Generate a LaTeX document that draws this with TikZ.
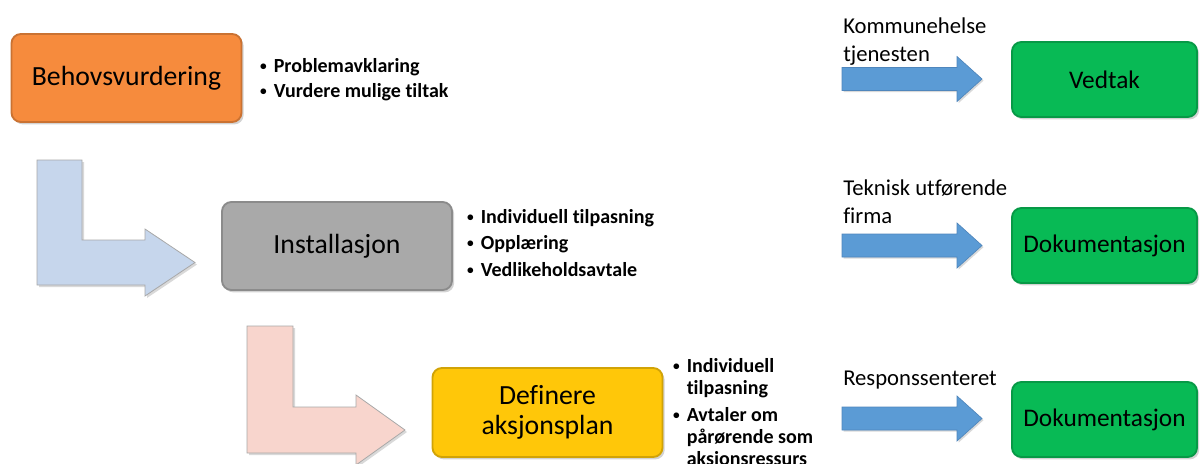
\documentclass[tikz,border=0pt]{standalone}
\usepackage{fontspec}
\setmainfont{Carlito}[Ligatures=NoCommon]
\usetikzlibrary{shadows}
\definecolor{orangebox}{HTML}{F68B3D}
\definecolor{graybox}{HTML}{A9A9A9}
\definecolor{yellowbox}{HTML}{FFC709}
\definecolor{greenbox}{HTML}{08BA55}
\definecolor{bluearrow}{HTML}{5B9BD5}
\definecolor{bluearrowline}{HTML}{4F86BC}
\definecolor{lblue}{HTML}{C6D6EC}
\definecolor{lpink}{HTML}{F8D5CD}
\definecolor{loutline}{HTML}{A8A8A8}
\newcommand\mybul{\makebox[11.25pt][l]{\hspace{1pt}\raisebox{1.2pt}{\fontsize{10}{10}\selectfont\textbullet}}}
\begin{document}
\begin{tikzpicture}[x=0.75pt,y=-0.75pt,
  box/.style={rounded corners=7pt, draw=#1!82!black, line width=1.4pt, fill=#1,
    inner sep=0pt, align=center,
    drop shadow={shadow xshift=1.6pt, shadow yshift=-1.8pt, opacity=0.35}},
  mainbox/.style={box=#1, minimum width=172.5pt, minimum height=66pt,
    font=\fontsize{20.8}{22.5}\selectfont},
  greenbx/.style={box=greenbox, minimum width=138.75pt, minimum height=56.25pt,
    font=\fontsize{19}{21}\selectfont},
  lst/.style={anchor=base west, inner sep=0pt, align=left},
  lbl/.style={anchor=base west, inner sep=0pt, font=\fontsize{17}{21}\selectfont},
  larrow/.style={fill=#1, draw=loutline, line width=0.6pt,
    drop shadow={shadow xshift=1.5pt, shadow yshift=-1.5pt, opacity=0.3}},
  barrow/.pic={
    \path[fill=bluearrow, draw=bluearrowline, line width=0.5pt,
      drop shadow={shadow xshift=1.2pt, shadow yshift=-1.2pt, opacity=0.3}]
      (0,-11.5) -- (115,-11.5) -- (115,-22.5) -- (140,0) -- (115,22.5)
      -- (115,11.5) -- (0,11.5) -- cycle;
  }]
\useasboundingbox (0,0) rectangle (1200,464);

% L-shaped arrows
\path[larrow=lblue] (37,160) -- (82,160) -- (82,240) -- (145,240) -- (145,229)
  -- (195,262.5) -- (145,296) -- (145,285) -- (37,285) -- cycle;
\path[larrow=lpink] (247,326) -- (293,326) -- (293,407) -- (356,407) -- (356,395)
  -- (405,430) -- (356,465) -- (356,453) -- (247,453) -- cycle;

% main process boxes
\node[mainbox=orangebox] (behov) at (126.5,78) {Behovsvurdering};
\node[mainbox=graybox] (install) at (337,246) {Installasjon};
\node[mainbox=yellowbox, minimum height=66.75pt] (aksjon) at (547.5,412.5) {Definere\\aksjonsplan};

% bullet lists
\node[lst, font=\bfseries\fontsize{15}{18.75}\selectfont] (l1) at (258.5,72)
  {\begin{tabular}[t]{@{}l@{}}\mybul Problemavklaring\\ \mybul Vurdere mulige tiltak\end{tabular}};
\node[lst, font=\bfseries\fontsize{15}{19.9}\selectfont] (l2) at (465.5,223)
  {\begin{tabular}[t]{@{}l@{}}\mybul Individuell tilpasning\\ \mybul Opplæring\\ \mybul Vedlikeholdsavtale\end{tabular}};
\node[lst, font=\bfseries\fontsize{15}{16.5}\selectfont] (l3) at (671.5,372)
  {\begin{tabular}[t]{@{}l@{}}\mybul Individuell\\ \hspace*{11.25pt}tilpasning\\[4pt] \mybul Avtaler om\\ \hspace*{11.25pt}pårørende som\\ \hspace*{11.25pt}aksjonsressurs\end{tabular}};

% right column
\node[lbl] (t1) at (843,33) {\begin{tabular}[t]{@{}l@{}}Kommunehelse\\ tjenesten\end{tabular}};
\node[lbl] (t2) at (843,195) {\begin{tabular}[t]{@{}l@{}}Teknisk utførende\\ firma\end{tabular}};
\node[lbl] (t3) at (843,385) {Responssenteret};

\pic at (842,79) {barrow};
\pic at (842,245.5) {barrow};
\pic at (842,418.5) {barrow};

\node[greenbx] (vedtak) at (1104.5,79.5) {Vedtak};
\node[greenbx] (dok1) at (1104.5,245.5) {Dokumentasjon};
\node[greenbx] (dok2) at (1104.5,419.5) {Dokumentasjon};
\end{tikzpicture}
\end{document}
